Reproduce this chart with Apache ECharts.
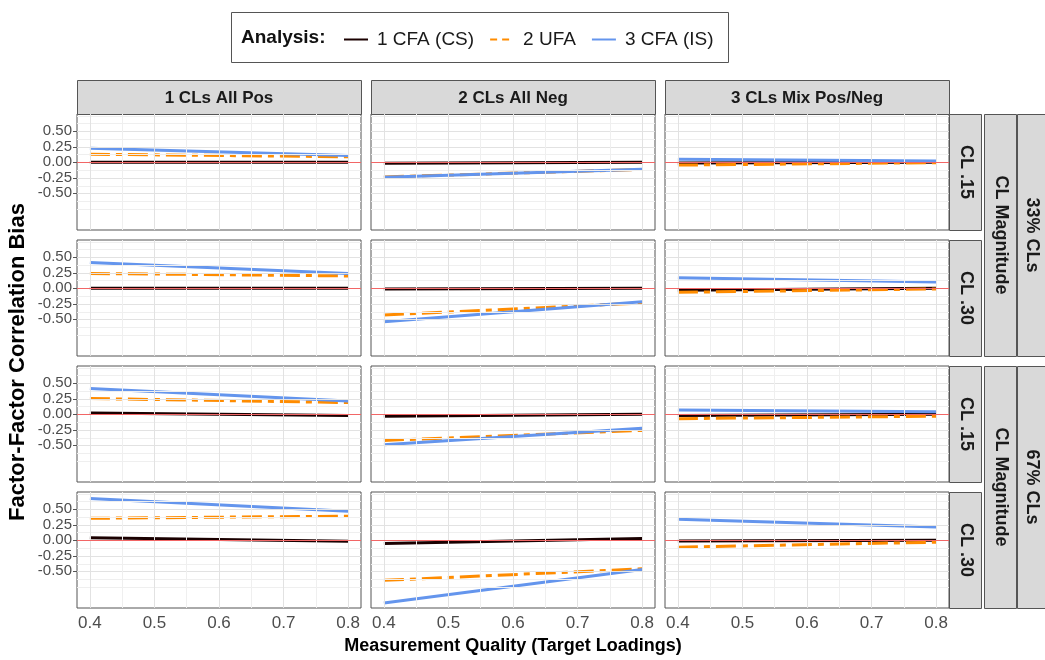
<!DOCTYPE html>
<html>
<head>
<meta charset="utf-8">
<title>Factor-Factor Correlation Bias</title>
<script src="https://cdn.jsdelivr.net/npm/echarts@6/dist/echarts.min.js"></script>
<style>
  html, body { margin: 0; padding: 0; background: #fff; }
  #chart { width: 1045px; height: 660px; }
</style>
</head>
<body>
<div id="chart"></div>
<script>
// facet labels
var colLabels = ['1 CLs All Pos', '2 CLs All Neg', '3 CLs Mix Pos/Neg'];
var rowLabels = ['CL .15', 'CL .30', 'CL .15', 'CL .30'];
var rowGroupLabel = 'CL Magnitude';
var groupLabels = ['33% CLs', '67% CLs'];
var seriesNames = ['1 CFA (CS)', '2 UFA', '3 CFA (IS)'];

// target loadings and axis ticks
var loadings = [0.4, 0.8];
var xTicks = [0.4, 0.5, 0.6, 0.7, 0.8];
var yTicks = [-0.5, -0.25, 0, 0.25, 0.5];
var xGridLines = [0.4, 0.45, 0.5, 0.55, 0.6, 0.65, 0.7, 0.75, 0.8];
var yGridLines = [-0.75, -0.625, -0.5, -0.375, -0.25, -0.125, 0, 0.125, 0.25, 0.375, 0.5, 0.625, 0.75];

// bias at loading .4 and .8 for each panel, row by row (left to right)
var cfaCS = [
  [0.0, 0.0], [-0.015, 0.0], [-0.01, 0.0],
  [0.0, 0.0], [-0.01, 0.0], [-0.03, 0.0],
  [0.02, -0.02], [-0.03, 0.0], [-0.02, 0.0],
  [0.04, -0.015], [-0.05, 0.03], [-0.01, 0.0]
];
var ufa = [
  [0.13, 0.09], [-0.235, -0.115], [-0.045, -0.005],
  [0.24, 0.20], [-0.43, -0.235], [-0.065, -0.01],
  [0.255, 0.19], [-0.42, -0.26], [-0.07, -0.03],
  [0.355, 0.39], [-0.645, -0.46], [-0.11, -0.03]
];
var cfaIS = [
  [0.225, 0.11], [-0.24, -0.11], [0.05, 0.02],
  [0.415, 0.24], [-0.54, -0.215], [0.17, 0.10],
  [0.415, 0.215], [-0.49, -0.225], [0.07, 0.04],
  [0.675, 0.47], [-1.01, -0.47], [0.34, 0.215]
];

var panelLeft = [77, 371, 665];
var panelTop = [114, 240, 366, 492];
var panelW = 284, panelH = 116;
var colors = ['#1a0000', '#FF8C00', '#6495ED'];
var dashes = ['solid', [20, 6, 6, 6], 'solid'];
var values = [cfaCS, ufa, cfaIS];

var option = {
  animation: false,
  textStyle: { fontFamily: 'Liberation Sans, Arial, sans-serif' },
  legend: {
    left: 338,
    top: 25,
    itemWidth: 24,
    itemHeight: 12,
    itemGap: 15,
    selectedMode: false,
    itemStyle: { opacity: 0 },
    textStyle: { fontSize: 19, color: '#1a1a1a', padding: [0, 0, 0, 4] },
    data: [
      { name: seriesNames[0] },
      { name: seriesNames[1], lineStyle: { type: [7, 5] } },
      { name: seriesNames[2] }
    ]
  },
  grid: [],
  xAxis: [],
  yAxis: [],
  series: [],
  graphic: []
};

for (var r = 0; r < 4; r++) {
  for (var c = 0; c < 3; c++) {
    var p = r * 3 + c;
    option.grid.push({
      left: panelLeft[c], top: panelTop[r], width: panelW, height: panelH,
      show: true, backgroundColor: '#fff', borderColor: '#555', borderWidth: 1,
      containLabel: false, outerBoundsMode: 'none'
    });
    option.xAxis.push({
      type: 'value', gridIndex: p, min: 0.38, max: 0.82,
      splitLine: { show: false },
      axisLine: { show: false },
      axisTick: { show: r === 3, customValues: xTicks, length: 4, lineStyle: { color: '#555' } },
      axisLabel: {
        show: r === 3, customValues: xTicks, margin: 7,
        fontSize: 17, color: '#4d4d4d',
        formatter: function (v) { return v.toFixed(1); }
      }
    });
    option.yAxis.push({
      type: 'value', gridIndex: p, min: -1.091, max: 0.779,
      splitLine: { show: false },
      axisLine: { show: false },
      axisTick: { show: c === 0, customValues: yTicks, length: 4, lineStyle: { color: '#555' } },
      axisLabel: {
        show: c === 0, customValues: yTicks, margin: 5,
        fontSize: 15, color: '#4d4d4d',
        formatter: function (v) { return v.toFixed(2); }
      }
    });

    // panel grid lines
    var gl = [];
    yGridLines.forEach(function (v) {
      var major = (v * 4) % 1 === 0 && Math.abs(v) <= 0.5;
      gl.push({ yAxis: v, lineStyle: { color: major ? '#e2e2e2' : '#efefef', width: 1, type: 'solid' } });
    });
    xGridLines.forEach(function (v) {
      var major = Math.round(v * 100) % 10 === 0;
      gl.push({ xAxis: v, lineStyle: { color: major ? '#e2e2e2' : '#efefef', width: 1, type: 'solid' } });
    });
    option.series.push({
      type: 'line', xAxisIndex: p, yAxisIndex: p, data: [], z: 1, silent: true,
      markLine: {
        silent: true, symbol: ['none', 'none'], label: { show: false }, animation: false,
        lineStyle: { type: 'solid', width: 1, color: '#e8e8e8' },
        emphasis: { disabled: true },
        data: gl
      }
    });

    for (var s = 0; s < 3; s++) {
      option.series.push({
        name: seriesNames[s],
        type: 'line',
        xAxisIndex: p, yAxisIndex: p,
        showSymbol: false, symbol: 'none',
        z: 2 + s,
        lineStyle: { color: colors[s], width: 3, type: dashes[s] },
        itemStyle: { color: colors[s] },
        emphasis: { disabled: true },
        data: loadings.map(function (x, k) { return [x, values[s][p][k]]; })
      });
    }

    // reference line at zero bias
    option.series.push({
      type: 'line', xAxisIndex: p, yAxisIndex: p, data: [], z: 6, silent: true,
      markLine: {
        silent: true, symbol: ['none', 'none'], label: { show: false }, animation: false,
        emphasis: { disabled: true },
        lineStyle: { color: 'rgba(255,0,0,0.55)', width: 1, type: 'solid' },
        data: [{ yAxis: 0 }]
      }
    });
  }
}

// legend frame and title
option.graphic.push({
  type: 'rect', shape: { x: 231.5, y: 12.5, width: 497, height: 50 },
  style: { fill: '#fff', stroke: '#555', lineWidth: 1 }, z: -1
});
option.graphic.push({
  type: 'text', x: 241, y: 38,
  style: { text: 'Analysis:', fontSize: 19, fontWeight: 'bold', fill: '#111',
    textVerticalAlign: 'middle', verticalAlign: 'middle' }
});

// column strips
colLabels.forEach(function (lab, c) {
  option.graphic.push({
    type: 'rect', shape: { x: panelLeft[c] + 0.5, y: 80.5, width: panelW, height: 34 },
    style: { fill: '#d9d9d9', stroke: '#555', lineWidth: 1 }
  });
  option.graphic.push({
    type: 'text', x: panelLeft[c] + panelW / 2, y: 98,
    style: { text: lab, fontSize: 17, fontWeight: 'bold', fill: '#1a1a1a',
      textAlign: 'center', align: 'center', textVerticalAlign: 'middle', verticalAlign: 'middle' }
  });
});

// row strips
var stripX = panelLeft[2] + panelW;
rowLabels.forEach(function (lab, r) {
  option.graphic.push({
    type: 'rect', shape: { x: stripX + 0.5, y: panelTop[r] + 0.5, width: 32, height: panelH },
    style: { fill: '#d9d9d9', stroke: '#555', lineWidth: 1 }
  });
  option.graphic.push({
    type: 'text', x: stripX + 16.5, y: panelTop[r] + panelH / 2, rotation: -Math.PI / 2,
    style: { text: lab, fontSize: 18, fontWeight: 'bold', fill: '#1a1a1a',
      textAlign: 'center', align: 'center', textVerticalAlign: 'middle', verticalAlign: 'middle' }
  });
});

// nested group strips
groupLabels.forEach(function (lab, g) {
  var top = panelTop[g * 2];
  var h = panelTop[g * 2 + 1] + panelH - top;
  option.graphic.push({
    type: 'rect', shape: { x: stripX + 35.5, y: top + 0.5, width: 32, height: h },
    style: { fill: '#d9d9d9', stroke: '#555', lineWidth: 1 }
  });
  option.graphic.push({
    type: 'text', x: stripX + 51.5, y: top + h / 2, rotation: -Math.PI / 2,
    style: { text: rowGroupLabel, fontSize: 18, fontWeight: 'bold', fill: '#1a1a1a',
      textAlign: 'center', align: 'center', textVerticalAlign: 'middle', verticalAlign: 'middle' }
  });
  option.graphic.push({
    type: 'rect', shape: { x: stripX + 68.5, y: top + 0.5, width: 32, height: h },
    style: { fill: '#d9d9d9', stroke: '#555', lineWidth: 1 }
  });
  option.graphic.push({
    type: 'text', x: stripX + 83, y: top + h / 2, rotation: -Math.PI / 2,
    style: { text: lab, fontSize: 18, fontWeight: 'bold', fill: '#1a1a1a',
      textAlign: 'center', align: 'center', textVerticalAlign: 'middle', verticalAlign: 'middle' }
  });
});

// axis titles
option.graphic.push({
  type: 'text', x: 18, y: 362, rotation: Math.PI / 2,
  style: { text: 'Factor-Factor Correlation Bias', fontSize: 22, fontWeight: 'bold', fill: '#000',
    textAlign: 'center', align: 'center', textVerticalAlign: 'middle', verticalAlign: 'middle' }
});
option.graphic.push({
  type: 'text', x: 513, y: 646,
  style: { text: 'Measurement Quality (Target Loadings)', fontSize: 18, fontWeight: 'bold', fill: '#000',
    textAlign: 'center', align: 'center', textVerticalAlign: 'middle', verticalAlign: 'middle' }
});

var myChart = echarts.init(document.getElementById('chart'));
myChart.setOption(option);
</script>
</body>
</html>
